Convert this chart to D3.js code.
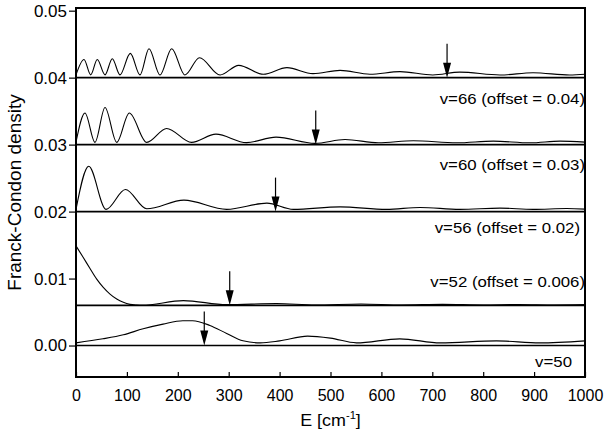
<!DOCTYPE html>
<html>
<head>
<meta charset="utf-8">
<script src="https://cdn.jsdelivr.net/npm/d3@7"></script>
<style>
  body { margin: 0; background: #fff; }
  text { font-family: "Liberation Sans", Arial, sans-serif; fill: #000; }
</style>
</head>
<body>
<div id="chart"></div>
<script>
// vibrational states, their vertical offsets and the arrow positions (cm-1)
const states = [66, 60, 56, 52, 50];
const offsets = [0.04, 0.03, 0.02, 0.006, 0];
const arrowE = [729, 471, 392, 302, 252];
const xTicks = [0, 100, 200, 300, 400, 500, 600, 700, 800, 900, 1000];
const yTicks = [0.00, 0.01, 0.02, 0.03, 0.04, 0.05];

// Franck-Condon density, [E, density] without the offset
const fc66 = [[0, 0.00042], [15.7, 0.00272], [28.9, 0.00042], [41.8, 0.00272], [57, 0.00042],
    [71.3, 0.00283], [86.4, 0.00042], [106.7, 0.00362], [125.7, 0.00042], [143.4, 0.00432],
    [165, 0.0004], [188, 0.00432], [214, 0.0004], [242.6, 0.00298], [283, 0.0004],
    [319.6, 0.00183], [368, 0.0005], [414.5, 0.00149], [465.6, 0.0006], [518.7, 0.00109],
    [577.6, 0.0005], [636.5, 0.0009], [701, 0.0004], [754, 0.00083], [833, 0.0004],
    [898, 0.00074], [970, 0.0004], [1000, 0.0005]];
const fc60 = [[0, 0.00037], [17.7, 0.00473], [37.3, 0.00033], [57, 0.00554], [80, 0.00033],
    [104.7, 0.00473], [139, 0.00033], [178, 0.00241], [227, 0.00033], [275, 0.00156],
    [335, 0.0003], [393, 0.00112], [469.5, 0.00018], [528.5, 0.00077], [594, 0.00027],
    [662.7, 0.00057], [748, 0.00027], [820, 0.00052], [892, 0.00027], [951, 0.00052],
    [1000, 0.00037]];
const fc56 = [[0, 0.00033], [25, 0.00677], [59, 0.00033], [97, 0.0033], [139, 0.00042],
    [212, 0.00171], [296, 0.00033], [375, 0.00126], [427, 0.00033], [518.7, 0.0007],
    [610, 0.00033], [676, 0.00062], [754, 0.00033], [833, 0.00052], [898, 0.00033],
    [964, 0.00045], [1000, 0.00037]];
const fc52 = [[0, 0.00888], [14.3, 0.00714], [27.5, 0.0055], [40.7, 0.00391], [53.6, 0.00268],
    [66.8, 0.00168], [80, 0.00094], [93, 0.00045], [106, 0.00015], [119, 0.00004],
    [130, 0.0], [211, 0.0007], [296, 0.0001], [394, 0.00027], [470, 0.00005], [560, 0.0002],
    [640, 0.00005], [720, 0.00015], [800, 0.00005], [870, 0.00012], [940, 0.00005],
    [1000, 0.0001]];
const fc50 = [[0, 0.0004], [53, 0.001], [93, 0.0016], [132, 0.0025], [171, 0.0032],
    [210, 0.0037], [229, 0.0037], [263, 0.003], [296, 0.0018], [328, 0.0007], [362, 0.0004],
    [400, 0.0007], [455, 0.0014], [500, 0.0011], [551, 0.0004], [636, 0.001], [716, 0.0004],
    [826, 0.0007], [911, 0.0004], [1000, 0.0007]];
const curves = [fc66, fc60, fc56, fc52, fc50];

const labels = ["v=66 (offset = 0.04)", "v=60 (offset = 0.03)", "v=56 (offset = 0.02)",
    "v=52 (offset = 0.006)", "v=50"];

const width = 605, height = 441;
const m = {left: 76, right: 585, top: 8, bottom: 377};

const svg = d3.select("#chart").append("svg").attr("width", width).attr("height", height);

const x = d3.scaleLinear().domain([0, 1000]).range([m.left, m.right]);
const y = d3.scaleLinear().domain([-0.0047, 0.0504]).range([m.bottom, m.top]);

// baselines at each offset
svg.selectAll(".base").data(offsets).enter().append("line")
    .attr("x1", m.left).attr("x2", m.right)
    .attr("y1", d => y(d)).attr("y2", d => y(d))
    .attr("stroke", "#000").attr("stroke-width", 1.6);

const line = d3.line().x(d => x(d[0])).y(d => y(d[1])).curve(d3.curveMonotoneX);

svg.selectAll(".fc").data(curves).enter().append("path")
    .attr("d", (c, i) => line(c.map(p => [p[0], p[1] + offsets[i]])))
    .attr("fill", "none").attr("stroke", "#000").attr("stroke-width", 1.1);

// arrows
const arrowLen = 34, head = 15;
arrowE.forEach((e, i) => {
    let ax = x(e), ay = y(offsets[i]);
    svg.append("line").attr("x1", ax).attr("x2", ax).attr("y1", ay - arrowLen).attr("y2", ay - head + 2)
        .attr("stroke", "#000").attr("stroke-width", 1.2);
    svg.append("path").attr("d", `M${ax - 4},${ay - head} L${ax + 4},${ay - head} L${ax},${ay} Z`)
        .attr("fill", "#000");
});

// axes
const xAxis = d3.axisBottom(x).tickValues(xTicks).tickFormat(d3.format("d"))
    .tickSizeInner(-5).tickSizeOuter(0).tickPadding(13);
const gx = svg.append("g").attr("transform", `translate(0,${m.bottom})`).call(xAxis);
gx.select(".domain").remove();
gx.selectAll("text").attr("font-size", 16).attr("font-family", "Liberation Sans, Arial, sans-serif");

const yAxis = d3.axisLeft(y).tickValues(yTicks).tickFormat(d3.format(".2f")).tickSizeInner(7).tickSizeOuter(0).tickPadding(2);
const gy = svg.append("g").attr("transform", `translate(${m.left},0)`).call(yAxis);
gy.select(".domain").remove();
gy.selectAll("text").attr("font-size", 17).attr("font-family", "Liberation Sans, Arial, sans-serif");
svg.selectAll(".tick line").attr("stroke", "#000").attr("stroke-width", 1.2);

// frame
svg.append("rect").attr("x", m.left).attr("y", m.top).attr("width", m.right - m.left).attr("height", m.bottom - m.top)
    .attr("fill", "none").attr("stroke", "#000").attr("stroke-width", 2);

// state labels (the scan is stretched horizontally)
const labelY = [104, 170, 233, 287, 367];
const labelX = [585, 585, 580, 585, 572];
labels.forEach((t, i) => {
    svg.append("g").attr("transform", `translate(${labelX[i]},${labelY[i]}) scale(1.2,1)`)
        .append("text").attr("text-anchor", "end").attr("font-size", 14).text(t);
});

// axis titles
const xt = svg.append("g").attr("transform", `translate(${(m.left + m.right) / 2},426) scale(1.12,1)`)
    .append("text").attr("text-anchor", "middle").attr("font-size", 16);
xt.append("tspan").text("E [cm");
xt.append("tspan").attr("font-size", 10).attr("dy", -7).text("-1");
xt.append("tspan").attr("dy", 7).text("]");

svg.append("text").attr("transform", `translate(21,${(m.top + m.bottom) / 2}) rotate(-90)`)
    .attr("text-anchor", "middle").attr("font-size", 19).text("Franck-Condon density");
</script>
</body>
</html>
